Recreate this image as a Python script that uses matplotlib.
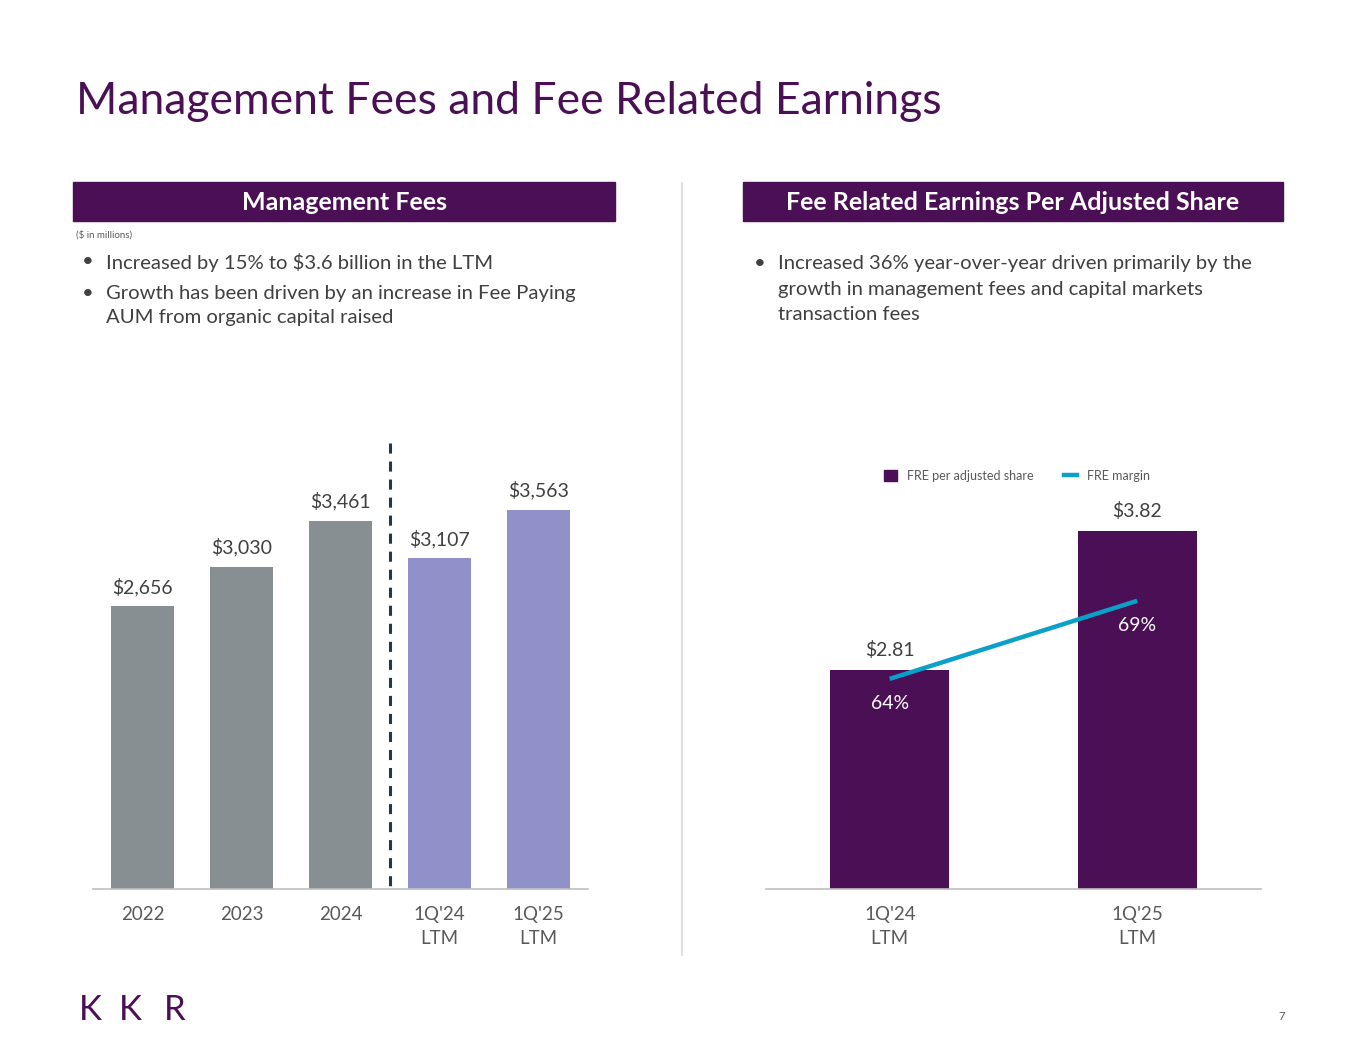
import matplotlib
matplotlib.use("Agg")
import matplotlib.pyplot as plt
from matplotlib.patches import Patch
from matplotlib.lines import Line2D

plt.rcParams["font.family"] = ["Lato", "DejaVu Sans"]

PURPLE = "#4B0F55"
GRAY_BAR = "#878F93"
LAV_BAR = "#8F91C8"
TEAL = "#0AA0C8"
TXT = "#404040"
TICK = "#595959"

# data
mgmt_cats = ["2022", "2023", "2024", "1Q'24\nLTM", "1Q'25\nLTM"]
mgmt_vals = [2656, 3030, 3461, 3107, 3563]
mgmt_labels = ["$2,656", "$3,030", "$3,461", "$3,107", "$3,563"]

fre_cats = ["1Q'24\nLTM", "1Q'25\nLTM"]
fre_vals = [2.81, 3.82]
fre_labels = ["$2.81", "$3.82"]
margin_vals = [64, 69]
margin_labels = ["64%", "69%"]

W, H = 1365, 1055
fig = plt.figure(figsize=(W / 100, H / 100), dpi=100)


def fx(px):
    return px / W


def fy(py):
    return 1 - py / H


# title
fig.text(fx(76), fy(102), "Management Fees and Fee Related Earnings",
         fontsize=32, color=PURPLE, va="center", ha="left")

# section headers
for x0, x1, label in ((73, 615, "Management Fees"),
                      (743, 1283, "Fee Related Earnings Per Adjusted Share")):
    fig.patches.append(plt.Rectangle((fx(x0), fy(221)), fx(x1 - x0), (221 - 182) / H,
                                     transform=fig.transFigure, color=PURPLE, zorder=0))
    fig.text(fx((x0 + x1) / 2), fy(202), label, fontsize=18, fontweight="bold",
             color="white", ha="center", va="center")

# divider
fig.add_artist(Line2D([fx(682), fx(682)], [fy(183), fy(955)], color="#D9D9D9", lw=1.2))

fig.text(fx(76), fy(235), "($ in millions)", fontsize=7, color=TICK, va="center")

bullet_kw = dict(fontsize=14.6, color=TXT, va="center", ha="left")
fig.text(fx(82), fy(262), "\u2022", **bullet_kw)
fig.text(fx(106), fy(262), "Increased by 15% to $3.6 billion in the LTM", **bullet_kw)
fig.text(fx(82), fy(293), "\u2022", **bullet_kw)
fig.text(fx(106), fy(293), "Growth has been driven by an increase in Fee Paying", **bullet_kw)
fig.text(fx(106), fy(318), "AUM from organic capital raised", **bullet_kw)

fig.text(fx(754), fy(263), "\u2022", **bullet_kw)
fig.text(fx(778), fy(263), "Increased 36% year-over-year driven primarily by the", **bullet_kw)
fig.text(fx(778), fy(289), "growth in management fees and capital markets", **bullet_kw)
fig.text(fx(778), fy(314), "transaction fees", **bullet_kw)


def style(ax):
    for s in ("top", "right", "left"):
        ax.spines[s].set_visible(False)
    ax.spines["bottom"].set_color("#BFBFBF")
    ax.spines["bottom"].set_linewidth(1.2)
    ax.set_yticks([])
    ax.tick_params(axis="x", length=0, pad=12, labelsize=13.5, labelcolor=TICK)


# left chart: management fees
ax1 = fig.add_axes([fx(93), fy(889), fx(495), 449 / H])
colors = [GRAY_BAR] * 3 + [LAV_BAR] * 2
x1 = range(len(mgmt_vals))
ax1.bar(x1, mgmt_vals, width=0.63, color=colors)
ax1.set_xlim(-0.5, 4.5)
ax1.set_ylim(0, 4220)
for i, (v, lab) in enumerate(zip(mgmt_vals, mgmt_labels)):
    ax1.annotate(lab, (i, v), xytext=(0, 14), textcoords="offset points",
                 ha="center", va="center", fontsize=14, color=TXT)
# divider between annual and LTM bars, drawn top-down so the dash pattern starts at top
ax1.plot([2.5, 2.5], [4192, 15], color="#1F3A4D", lw=2.2, dashes=(3.3, 2.6),
         solid_capstyle="butt", dash_capstyle="butt")
ax1.set_xticks(list(x1))
ax1.set_xticklabels(mgmt_cats, linespacing=1.55)
style(ax1)

# right chart: FRE per adjusted share
ax2 = fig.add_axes([fx(766), fy(889), fx(495), 449 / H])
x2 = range(len(fre_vals))
ax2.bar(x2, fre_vals, width=0.48, color=PURPLE)
ax2.set_xlim(-0.5, 1.5)
ax2.set_ylim(1.219, 4.48)
for i, (v, lab) in enumerate(zip(fre_vals, fre_labels)):
    ax2.annotate(lab, (i, v), xytext=(0, 14.5), textcoords="offset points",
                 ha="center", va="center", fontsize=14, color=TXT)
ax2.set_xticks(list(x2))
ax2.set_xticklabels(fre_cats, linespacing=1.55)
style(ax2)

ax3 = ax2.twinx()
ax3.plot(list(x2), margin_vals, color=TEAL, lw=3.2, solid_capstyle="butt")
ax3.set_ylim(50.54, 79.3)
ax3.set_yticks([])
for s in ax3.spines.values():
    s.set_visible(False)
for i, (v, lab) in enumerate(zip(margin_vals, margin_labels)):
    ax3.annotate(lab, (i, v), xytext=(0, -18), textcoords="offset points",
                 ha="center", va="center", fontsize=14, color="white")

handles = [Patch(color=PURPLE, label="FRE per adjusted share"),
           Line2D([], [], color=TEAL, lw=3.2, label="FRE margin")]
fig.legend(handles=handles, loc="center", bbox_to_anchor=(fx(1017), fy(476)),
           ncol=2, frameon=False, fontsize=9, labelcolor=TICK,
           handlelength=1.0, handleheight=1.0, columnspacing=2.5, handletextpad=0.8)

# footer logo
for px, ch in ((79, "K"), (119, "K"), (164, "R")):
    fig.text(fx(px), fy(1010), ch, fontsize=25, fontweight="normal", color=PURPLE,
             va="center", ha="left")
fig.text(fx(1282), fy(1016), "7", fontsize=8, color=TICK, ha="center", va="center")

fig.savefig("out.png", dpi=100)
